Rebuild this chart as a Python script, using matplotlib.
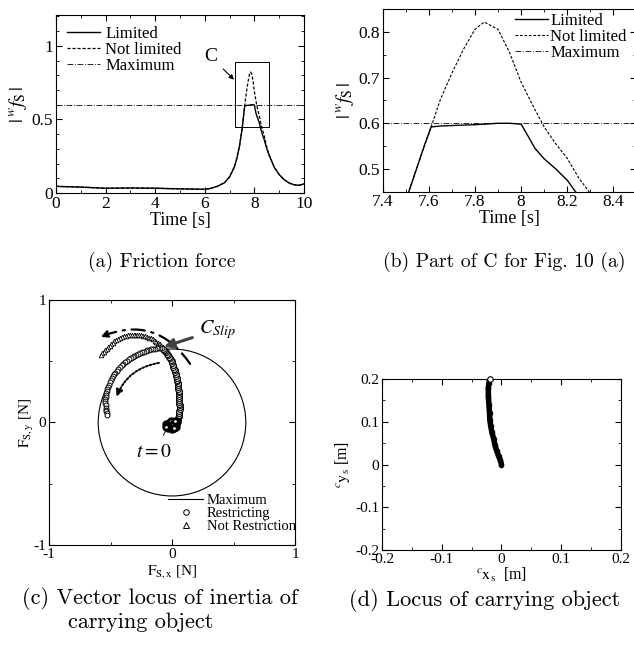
import numpy as np
import matplotlib
matplotlib.use("Agg")
import matplotlib.pyplot as plt
from matplotlib.patches import Rectangle, Circle
from matplotlib.ticker import MultipleLocator, FuncFormatter
from matplotlib.lines import Line2D

plt.rcParams['font.family'] = ['Liberation Serif', 'DejaVu Serif']
plt.rcParams['mathtext.fontset'] = 'stix'
plt.rcParams['axes.unicode_minus'] = False

# -----------------------------
# Data: (a) friction force
# -----------------------------
time_a = [0, 1, 2, 3, 4, 5, 6, 6.2, 6.5, 6.8, 7.0, 7.2, 7.3, 7.4, 7.5, 7.55, 7.58,
          7.61, 7.65, 7.7, 7.75, 7.8, 7.84, 7.9, 7.95, 8.0, 8.03, 8.06, 8.1, 8.15,
          8.2, 8.25, 8.3, 8.4, 8.5, 8.6, 8.8, 9.0, 9.2, 9.4, 9.6, 9.8, 10.0]
limited_a = [0.045, 0.04, 0.032, 0.034, 0.032, 0.028, 0.025, 0.03, 0.045, 0.07, 0.11,
             0.18, 0.24, 0.32, 0.43, 0.505, 0.55, 0.592, 0.594, 0.595, 0.596, 0.597,
             0.598, 0.6, 0.6, 0.598, 0.572, 0.545, 0.522, 0.5, 0.475, 0.44, 0.41,
             0.36, 0.30, 0.255, 0.175, 0.125, 0.09, 0.068, 0.056, 0.052, 0.062]
notlim_a = [0.045, 0.04, 0.032, 0.034, 0.032, 0.028, 0.025, 0.03, 0.045, 0.07, 0.11,
            0.18, 0.24, 0.32, 0.43, 0.505, 0.55, 0.592, 0.652, 0.71, 0.762, 0.806,
            0.822, 0.806, 0.755, 0.69, 0.66, 0.63, 0.592, 0.555, 0.523, 0.48, 0.446,
            0.385, 0.31, 0.255, 0.175, 0.125, 0.09, 0.068, 0.056, 0.052, 0.062]
max_force = 0.6

# -----------------------------
# Data: (c) vector locus
# -----------------------------
blob_x = [-0.05, -0.04, -0.03, -0.02, -0.01, 0.0, 0.01, 0.02, 0.03, 0.035, 0.04,
          -0.03, -0.01, 0.01, 0.025, -0.045, 0.0, 0.02]
blob_y = [-0.01, -0.03, -0.045, 0.0, -0.04, -0.02, -0.045, -0.03, -0.01, -0.035, 0.0,
          -0.02, 0.01, -0.01, 0.01, -0.04, -0.05, -0.045]
band_x = [0.045, 0.05, 0.054, 0.057, 0.059, 0.06, 0.061, 0.061, 0.061, 0.06, 0.06,
          0.059, 0.058, 0.057, 0.056, 0.055, 0.054, 0.052, 0.05, 0.048, 0.046, 0.043,
          0.04, 0.037, 0.034, 0.03, 0.026, 0.022, 0.017, 0.012, 0.007, 0.002, -0.004,
          -0.01, -0.017, -0.024, -0.032, -0.04, -0.048, -0.056, -0.064, -0.072]
band_y = [0.02, 0.035, 0.05, 0.065, 0.08, 0.095, 0.11, 0.125, 0.14, 0.155, 0.17,
          0.185, 0.2, 0.215, 0.23, 0.245, 0.26, 0.275, 0.29, 0.305, 0.32, 0.335,
          0.35, 0.365, 0.38, 0.395, 0.41, 0.425, 0.44, 0.455, 0.47, 0.485, 0.5,
          0.513, 0.526, 0.538, 0.55, 0.562, 0.573, 0.583, 0.592, 0.6]
restr_x = [-0.08, -0.095, -0.11, -0.125, -0.14, -0.155, -0.17, -0.185, -0.2, -0.215,
           -0.23, -0.245, -0.26, -0.275, -0.29, -0.305, -0.32, -0.335, -0.35, -0.365,
           -0.38, -0.395, -0.41, -0.423, -0.436, -0.448, -0.46, -0.471, -0.481, -0.49,
           -0.498, -0.506, -0.513, -0.519, -0.525, -0.53, -0.534, -0.537, -0.54, -0.541,
           -0.542, -0.541, -0.54, -0.538, -0.536, -0.534, -0.532, -0.53]
restr_y = [0.606, 0.606, 0.606, 0.605, 0.603, 0.6, 0.597, 0.593, 0.589, 0.584,
           0.578, 0.572, 0.565, 0.558, 0.55, 0.542, 0.534, 0.525, 0.515, 0.504,
           0.492, 0.48, 0.467, 0.453, 0.439, 0.424, 0.408, 0.392, 0.376, 0.36,
           0.344, 0.327, 0.31, 0.293, 0.276, 0.259, 0.242, 0.225, 0.208, 0.19,
           0.173, 0.156, 0.139, 0.122, 0.105, 0.09, 0.075, 0.062]
free_x = [-0.075, -0.087, -0.1, -0.113, -0.127, -0.141, -0.156, -0.171, -0.186, -0.201,
          -0.217, -0.233, -0.249, -0.265, -0.281, -0.297, -0.313, -0.329, -0.345, -0.361,
          -0.377, -0.393, -0.409, -0.424, -0.439, -0.454, -0.468, -0.482, -0.495, -0.508,
          -0.52, -0.532, -0.544, -0.555, -0.566, -0.577]
free_y = [0.615, 0.627, 0.639, 0.65, 0.66, 0.669, 0.678, 0.686, 0.693, 0.699,
          0.704, 0.709, 0.712, 0.715, 0.717, 0.718, 0.718, 0.717, 0.715, 0.712,
          0.708, 0.703, 0.697, 0.69, 0.682, 0.673, 0.663, 0.652, 0.64, 0.628,
          0.615, 0.602, 0.589, 0.576, 0.564, 0.552]

# -----------------------------
# Data: (d) locus of object
# -----------------------------
path_x = [0.0, -0.002, -0.005, -0.008, -0.011, -0.013, -0.016, -0.018, -0.0195,
          -0.02, -0.021, -0.022, -0.022, -0.021, -0.02]
path_y = [0.0, 0.01, 0.02, 0.032, 0.045, 0.06, 0.075, 0.09, 0.105, 0.12, 0.14,
          0.16, 0.18, 0.19, 0.2]

fig = plt.figure(figsize=(6.34, 6.48), dpi=100)


def style_ticks(ax, size):
    ax.tick_params(which='both', direction='in', top=True, right=True,
                   labelsize=size, pad=2)
    ax.tick_params(which='major', length=4, width=0.8)
    ax.tick_params(which='minor', length=2.5, width=0.6)


gfmt = FuncFormatter(lambda v, p: ('%g' % round(v, 3)))
dash_max = (0, (7, 2, 1, 2))
dash_nl = (0, (2.5, 1.5))

# -----------------------------
# (a) Friction force
# -----------------------------
ax_a = fig.add_axes([0.0883, 0.7022, 0.3912, 0.2747])
ax_a.plot(time_a, limited_a, color='black', lw=1.0, label='Limited')
ax_a.plot(time_a, notlim_a, color='black', lw=0.9, ls=dash_nl, label='Not limited')
ax_a.axhline(max_force, color='black', lw=0.6, ls=dash_max, label='Maximum')
ax_a.add_patch(Rectangle((7.2, 0.45), 1.4, 0.44, fill=False, lw=0.7, color='black'))
ax_a.annotate('C', xy=(7.18, 0.77), xytext=(6.25, 0.925), fontsize=14,
              ha='center', va='center',
              arrowprops=dict(arrowstyle='-|>', lw=0.8, color='black',
                              mutation_scale=7, shrinkA=3, shrinkB=0))
ax_a.set_xlim(0, 10)
ax_a.set_ylim(0, 1.21)
ax_a.xaxis.set_major_locator(MultipleLocator(2))
ax_a.xaxis.set_minor_locator(MultipleLocator(1))
ax_a.yaxis.set_major_locator(MultipleLocator(0.5))
ax_a.yaxis.set_minor_locator(MultipleLocator(0.1))
ax_a.yaxis.set_major_formatter(gfmt)
style_ticks(ax_a, 12.5)
ax_a.set_xlabel('Time [s]', fontsize=13, labelpad=0)
ax_a.set_ylabel(r'$|\,^{w}f_{\mathrm{S}}\,|$', fontsize=14, labelpad=2)
ax_a.legend(loc='upper left', bbox_to_anchor=(0.045, 0.94), frameon=False,
            fontsize=12, handlelength=2.0, handletextpad=0.3, labelspacing=0.0,
            borderpad=0, borderaxespad=0)

# -----------------------------
# (b) Part of C
# -----------------------------
ax_b = fig.add_axes([0.6036, 0.7042, 0.4003, 0.2815])
ax_b.plot(time_a, limited_a, color='black', lw=1.0, label='Limited')
ax_b.plot(time_a, notlim_a, color='black', lw=0.8, ls=dash_nl, label='Not limited')
ax_b.axhline(max_force, color='black', lw=0.6, ls=dash_max, label='Maximum')
ax_b.set_xlim(7.4, 8.5)
ax_b.set_ylim(0.45, 0.85)
ax_b.xaxis.set_major_locator(MultipleLocator(0.2))
ax_b.xaxis.set_minor_locator(MultipleLocator(0.1))
ax_b.yaxis.set_major_locator(MultipleLocator(0.1))
ax_b.yaxis.set_minor_locator(MultipleLocator(0.05))
ax_b.xaxis.set_major_formatter(gfmt)
ax_b.yaxis.set_major_formatter(gfmt)
style_ticks(ax_b, 12.5)
ax_b.set_xlabel('Time [s]', fontsize=13, labelpad=0)
ax_b.set_ylabel(r'$|\,^{w}f_{\mathrm{S}}\,|$', fontsize=14, labelpad=2)
ax_b.legend(loc='upper left', bbox_to_anchor=(0.52, 0.98), frameon=False,
            fontsize=12, handlelength=2.0, handletextpad=0.15, labelspacing=0.0,
            borderpad=0, borderaxespad=0)

# -----------------------------
# (c) Vector locus
# -----------------------------
ax_c = fig.add_axes([0.0773, 0.159, 0.388, 0.378])
ax_c.add_patch(Circle((0, 0), max_force, fill=False, lw=0.8, color='black'))
ax_c.plot(free_x, free_y, ls='none', marker='^', ms=3.3, mfc='white', mec='black', mew=0.6)
ax_c.plot(band_x, band_y, ls='none', marker='^', ms=3.3, mfc='white', mec='black', mew=0.6)
ax_c.plot(band_x, band_y, ls='none', marker='o', ms=4.2, mfc='white', mec='black', mew=0.8)
ax_c.plot(restr_x, restr_y, ls='none', marker='o', ms=3.5, mfc='white', mec='black', mew=0.7)
ax_c.plot(blob_x, blob_y, ls='none', marker='o', ms=4, mfc='white', mec='black', mew=2.0)
ax_c.annotate('', xy=(-0.6, 0.69), xytext=(0.16, 0.46),
              arrowprops=dict(arrowstyle='-|>', lw=1.6, color='black', ls=(0, (6, 3, 1, 3)),
                              mutation_scale=10, connectionstyle='arc3,rad=0.42'))
ax_c.annotate('', xy=(-0.46, 0.19), xytext=(-0.084, 0.49),
              arrowprops=dict(arrowstyle='-|>', lw=1.4, color='black', ls=(0, (1, 1)),
                              mutation_scale=10, connectionstyle='arc3,rad=0.3'))
ax_c.annotate(r'$C_{Slip}$', xy=(-0.065, 0.618), xytext=(0.22, 0.76), fontsize=14.5,
              ha='left', va='center',
              arrowprops=dict(arrowstyle='-|>', lw=2.2, color='0.25',
                              mutation_scale=14, shrinkA=3, shrinkB=0))
ax_c.annotate(r'$t=0$', xy=(-0.04, -0.05), xytext=(-0.15, -0.245), fontsize=14,
              ha='center', va='center',
              arrowprops=dict(arrowstyle='-', lw=0.7, color='black', shrinkA=5, shrinkB=0))
ax_c.set_xlim(-1, 1)
ax_c.set_ylim(-1, 1)
ax_c.xaxis.set_major_locator(MultipleLocator(1))
ax_c.xaxis.set_minor_locator(MultipleLocator(0.5))
ax_c.yaxis.set_major_locator(MultipleLocator(1))
ax_c.yaxis.set_minor_locator(MultipleLocator(0.5))
ax_c.xaxis.set_major_formatter(gfmt)
ax_c.yaxis.set_major_formatter(gfmt)
style_ticks(ax_c, 11)
ax_c.set_xlabel(r'$\mathrm{F_{S,x}}$ [N]', fontsize=11, labelpad=2)
ax_c.set_ylabel(r'$\mathrm{F_{S,y}}$ [N]', fontsize=11, labelpad=-2)
handles_c = [Line2D([], [], color='black', lw=0.8),
             Line2D([], [], ls='none', marker='o', ms=4, mfc='white', mec='black', mew=0.7),
             Line2D([], [], ls='none', marker='^', ms=4, mfc='white', mec='black', mew=0.7)]
ax_c.legend(handles_c, ['Maximum', 'Restricting', 'Not Restriction'], loc='upper left',
            bbox_to_anchor=(0.485, 0.21), frameon=False, fontsize=10.5, handlelength=2.4,
            handletextpad=0.25, labelspacing=0.0, borderpad=0, borderaxespad=0)

# -----------------------------
# (d) Locus of carrying object
# -----------------------------
ax_d = fig.add_axes([0.6025, 0.1512, 0.377, 0.2639])
ax_d.plot(path_x, path_y, color='black', lw=4.0, marker='o', ms=3, solid_capstyle='round')
ax_d.plot(path_x[-1:], path_y[-1:], ls='none', marker='o', ms=4, mfc='white',
          mec='black', mew=0.8, clip_on=False, zorder=5)
ax_d.set_xlim(-0.2, 0.2)
ax_d.set_ylim(-0.2, 0.2)
ax_d.xaxis.set_major_locator(MultipleLocator(0.1))
ax_d.xaxis.set_minor_locator(MultipleLocator(0.05))
ax_d.yaxis.set_major_locator(MultipleLocator(0.1))
ax_d.yaxis.set_minor_locator(MultipleLocator(0.05))
ax_d.xaxis.set_major_formatter(gfmt)
ax_d.yaxis.set_major_formatter(gfmt)
style_ticks(ax_d, 11)
ax_d.set_xlabel(r'$^{c}\mathrm{x_s}$  [m]', fontsize=11.5, labelpad=0)
ax_d.set_ylabel(r'$^{c}\mathrm{y_s}$ [m]', fontsize=11.5, labelpad=2)

# -----------------------------
# Captions
# -----------------------------
cap = dict(family='cmr10', va='center')
fig.text(0.2555, 1 - 262 / 648, '(a) Friction force', ha='center', fontsize=14.2, **cap)
fig.text(0.795, 1 - 262 / 648, '(b) Part of C for Fig. 10 (a)', ha='center', fontsize=14.2, **cap)
fig.text(0.0347, 1 - 598 / 648, '(c) Vector locus of inertia of', ha='left', fontsize=16, **cap)
fig.text(0.107, 1 - 622 / 648, 'carrying object', ha='left', fontsize=16, **cap)
fig.text(0.765, 1 - 600 / 648, '(d) Locus of carrying object', ha='center', fontsize=16, **cap)

fig.savefig('out.png', dpi=100)
